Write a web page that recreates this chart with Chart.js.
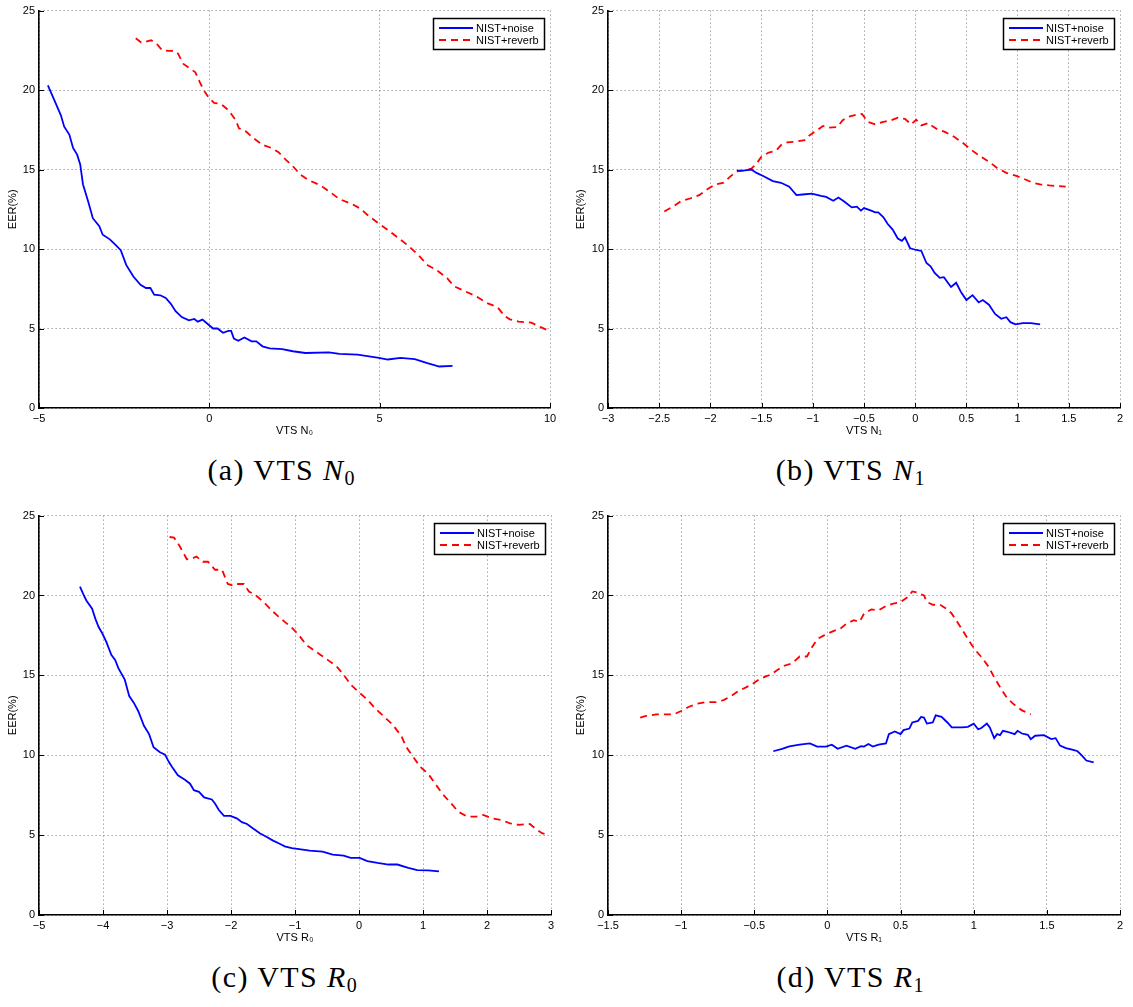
<!DOCTYPE html>
<html>
<head>
<meta charset="utf-8">
<script src="https://cdn.jsdelivr.net/npm/chart.js@4.4.0/dist/chart.umd.min.js"></script>
<style>
  body { margin: 0; background: #fff; width: 1133px; height: 1007px; position: relative; overflow: hidden; }
  canvas { position: absolute; }
  .cap { position: absolute; width: 400px; text-align: center; font-family: 'Liberation Serif', 'DejaVu Serif', serif; font-size: 30px; line-height: 30px; letter-spacing: 1.4px; color: #000; white-space: nowrap; }
  .cap sub { font-size: 20px; vertical-align: -5px; line-height: 0; font-style: normal; letter-spacing: 0; }
</style>
</head>
<body>
<canvas id="chartA" width="566" height="445" style="left:0;top:0"></canvas>
<canvas id="chartB" width="567" height="445" style="left:566px;top:0"></canvas>
<canvas id="chartC" width="566" height="445" style="left:0;top:505px"></canvas>
<canvas id="chartD" width="567" height="445" style="left:566px;top:505px"></canvas>
<div class="cap" style="left:81px;top:455px">(a) VTS <i>N</i><sub>0</sub></div>
<div class="cap" style="left:650px;top:455px">(b) VTS <i>N</i><sub>1</sub></div>
<div class="cap" style="left:84px;top:962px">(c) VTS <i>R</i><sub>0</sub></div>
<div class="cap" style="left:650px;top:962px">(d) VTS <i>R</i><sub>1</sub></div>
<script>
// (a) VTS N0
const n0NoiseX = [-4.74,-4.55,-4.36,-4.26,-4.11,-4.0,-3.88,-3.79,-3.71,-3.55,-3.42,-3.23,-3.13,-2.92,-2.76,-2.6,-2.44,-2.23,-2.02,-1.86,-1.73,-1.62,-1.44,-1.28,-1.13,-0.99,-0.81,-0.6,-0.44,-0.34,-0.2,-0.04,0.11,0.24,0.4,0.56,0.64,0.72,0.85,1.03,1.24,1.38,1.56,1.77,2.14,2.45,2.82,3.51,3.82,4.35,4.98,5.24,5.61,6.03,6.4,6.75,7.14];
const n0NoiseY = [20.3,19.37,18.43,17.7,17.2,16.36,15.94,15.32,14.08,12.94,11.94,11.44,10.9,10.61,10.28,9.93,9.0,8.27,7.75,7.55,7.55,7.13,7.09,6.92,6.55,6.09,5.72,5.51,5.6,5.43,5.56,5.27,5.0,5.0,4.73,4.85,4.85,4.37,4.23,4.44,4.19,4.19,3.88,3.75,3.71,3.57,3.46,3.5,3.4,3.36,3.15,3.05,3.15,3.07,2.82,2.61,2.65];
const n0ReverbX = [-2.16,-2.0,-1.86,-1.71,-1.55,-1.39,-1.18,-1.02,-0.92,-0.76,-0.55,-0.41,-0.28,-0.16,-0.02,0.14,0.35,0.56,0.77,0.87,1.08,1.29,1.56,1.82,2.03,2.24,2.45,2.66,2.87,3.29,3.56,3.82,4.19,4.45,4.66,4.98,5.19,5.51,5.82,6.14,6.4,6.66,6.98,7.19,7.51,7.83,8.14,8.46,8.67,8.82,9.08,9.45,9.71,9.98];
const n0ReverbY = [23.26,22.99,23.05,23.13,22.93,22.51,22.47,22.47,22.3,21.64,21.33,21.12,20.5,19.98,19.53,19.2,19.11,18.74,18.12,17.6,17.39,16.98,16.56,16.36,16.09,15.63,15.22,14.7,14.39,13.97,13.56,13.14,12.83,12.52,12.11,11.59,11.28,10.76,10.24,9.62,9.0,8.69,8.17,7.65,7.34,7.03,6.61,6.34,5.78,5.58,5.43,5.37,5.1,4.85];

// (b) VTS N1
const n1NoiseX = [-1.74,-1.66,-1.6,-1.55,-1.48,-1.39,-1.31,-1.23,-1.16,-1.1,-1.01,-0.92,-0.87,-0.8,-0.75,-0.69,-0.62,-0.57,-0.53,-0.5,-0.43,-0.39,-0.36,-0.31,-0.27,-0.22,-0.17,-0.13,-0.1,-0.05,0.01,0.06,0.11,0.15,0.19,0.24,0.28,0.35,0.4,0.45,0.5,0.56,0.62,0.66,0.72,0.78,0.84,0.89,0.93,0.98,1.05,1.13,1.22];
const n1NoiseY = [14.93,14.95,15.0,14.79,14.58,14.27,14.17,13.92,13.39,13.43,13.49,13.35,13.28,13.04,13.24,12.97,12.62,12.67,12.42,12.58,12.42,12.31,12.31,12.0,11.59,11.22,10.66,10.52,10.73,10.05,9.94,9.88,9.12,8.91,8.5,8.19,8.23,7.61,7.88,7.26,6.79,7.1,6.64,6.79,6.5,5.92,5.61,5.71,5.4,5.26,5.34,5.34,5.26];
const n1ReverbX = [-2.45,-2.36,-2.29,-2.2,-2.11,-2.03,-1.95,-1.87,-1.81,-1.74,-1.67,-1.6,-1.55,-1.5,-1.43,-1.36,-1.31,-1.25,-1.18,-1.08,-1.03,-0.95,-0.9,-0.85,-0.76,-0.71,-0.66,-0.57,-0.52,-0.46,-0.39,-0.32,-0.24,-0.17,-0.1,-0.04,0.01,0.06,0.13,0.17,0.22,0.29,0.38,0.47,0.55,0.64,0.73,0.8,0.89,0.98,1.06,1.15,1.22,1.31,1.4,1.47];
const n1ReverbY = [12.36,12.69,13.0,13.18,13.39,13.76,14.07,14.17,14.54,14.89,14.93,15.06,15.37,15.82,16.07,16.19,16.54,16.71,16.75,16.85,17.16,17.51,17.74,17.64,17.68,18.09,18.3,18.46,18.5,17.99,17.84,17.99,18.09,18.26,18.19,17.84,18.13,17.78,17.93,17.72,17.51,17.37,17.06,16.65,16.23,15.82,15.45,15.1,14.79,14.62,14.42,14.17,14.07,14.0,13.96,13.92];

// (c) VTS R0
const r0NoiseX = [-4.36,-4.31,-4.26,-4.17,-4.12,-4.07,-4.01,-3.95,-3.87,-3.81,-3.76,-3.66,-3.59,-3.52,-3.45,-3.36,-3.28,-3.21,-3.11,-3.03,-2.97,-2.92,-2.83,-2.72,-2.64,-2.58,-2.5,-2.42,-2.3,-2.25,-2.19,-2.11,-2.01,-1.91,-1.83,-1.75,-1.66,-1.55,-1.44,-1.35,-1.24,-1.16,-1.05,-0.88,-0.77,-0.57,-0.41,-0.24,-0.13,0.01,0.13,0.29,0.46,0.6,0.77,0.91,1.08,1.25];
const r0NoiseY = [20.56,20.1,19.69,19.17,18.55,18.04,17.62,17.11,16.28,15.97,15.45,14.73,13.7,13.29,12.77,11.84,11.32,10.5,10.19,10.04,9.57,9.26,8.74,8.47,8.22,7.81,7.71,7.36,7.23,6.98,6.57,6.2,6.2,6.05,5.81,5.7,5.43,5.12,4.88,4.67,4.46,4.3,4.19,4.09,4.03,3.97,3.78,3.72,3.57,3.57,3.37,3.26,3.16,3.16,2.95,2.81,2.79,2.73];
const r0ReverbX = [-2.96,-2.89,-2.81,-2.69,-2.61,-2.54,-2.44,-2.36,-2.25,-2.14,-2.05,-1.97,-1.91,-1.8,-1.72,-1.61,-1.49,-1.38,-1.27,-1.16,-1.05,-0.94,-0.82,-0.71,-0.6,-0.49,-0.35,-0.24,-0.13,0.01,0.13,0.24,0.38,0.52,0.66,0.74,0.85,0.96,1.08,1.19,1.3,1.44,1.55,1.69,1.83,1.94,2.08,2.22,2.36,2.5,2.67,2.75,2.86,2.97];
const r0ReverbY = [23.66,23.62,23.14,22.27,22.31,22.44,22.11,22.11,21.61,21.61,20.72,20.62,20.72,20.72,20.25,20.0,19.59,19.13,18.72,18.35,17.98,17.52,16.9,16.59,16.28,15.97,15.56,15.04,14.42,13.9,13.49,12.98,12.46,11.94,11.22,10.5,9.88,9.26,8.84,8.22,7.6,6.98,6.47,6.16,6.16,6.26,6.05,5.95,5.74,5.64,5.7,5.43,5.12,5.02];

// (d) VTS R1
const r1NoiseX = [-0.37,-0.31,-0.26,-0.19,-0.12,-0.07,-0.01,0.03,0.07,0.13,0.19,0.23,0.25,0.28,0.31,0.35,0.4,0.42,0.46,0.5,0.52,0.56,0.58,0.62,0.64,0.66,0.68,0.72,0.74,0.78,0.82,0.85,0.92,0.96,1.0,1.03,1.05,1.09,1.11,1.14,1.16,1.18,1.2,1.23,1.28,1.3,1.33,1.37,1.39,1.42,1.48,1.53,1.56,1.59,1.63,1.68,1.71,1.74,1.77,1.82];
const r1NoiseY = [10.25,10.4,10.56,10.66,10.74,10.54,10.54,10.66,10.4,10.6,10.4,10.56,10.54,10.7,10.54,10.66,10.74,11.32,11.49,11.32,11.57,11.67,12.05,12.15,12.4,12.36,11.98,12.05,12.5,12.4,12.05,11.74,11.74,11.78,11.98,11.63,11.69,11.98,11.74,11.07,11.32,11.26,11.53,11.47,11.32,11.53,11.36,11.28,11.01,11.22,11.26,11.01,11.07,10.6,10.45,10.33,10.25,9.98,9.67,9.55];
const r1ReverbX = [-1.28,-1.24,-1.17,-1.11,-1.05,-1.0,-0.95,-0.89,-0.83,-0.76,-0.71,-0.66,-0.61,-0.55,-0.51,-0.47,-0.42,-0.38,-0.34,-0.29,-0.24,-0.19,-0.14,-0.11,-0.07,-0.02,0.04,0.09,0.13,0.18,0.22,0.25,0.3,0.35,0.4,0.45,0.5,0.55,0.58,0.62,0.66,0.68,0.72,0.77,0.82,0.85,0.89,0.93,0.98,1.01,1.06,1.1,1.14,1.19,1.23,1.28,1.33,1.39];
const r1ReverbY = [12.36,12.46,12.56,12.56,12.56,12.77,13.02,13.22,13.33,13.33,13.45,13.7,14.01,14.28,14.47,14.73,14.94,15.08,15.35,15.62,15.76,16.18,16.18,16.69,17.27,17.52,17.77,17.93,18.24,18.45,18.35,18.86,19.13,19.07,19.34,19.49,19.59,19.9,20.25,20.17,20.0,19.59,19.42,19.42,19.13,18.86,18.31,17.73,17.0,16.59,16.07,15.56,14.88,14.11,13.55,13.14,12.81,12.56];

const seriesLabels = ['NIST+noise', 'NIST+reverb'];
const yTitle = 'EER(%)';

const sans = "'Liberation Sans', Arial, Helvetica, sans-serif";

function fmt(v) {
  const r = Math.round(v * 10) / 10;
  return r < 0 ? '\u2212' + Math.abs(r) : String(r);
}

function pairs(xs, ys) {
  return xs.map((x, i) => ({x: x, y: ys[i]}));
}

// matlab style legend box inside the axes, plus inward tick marks
const matlabBits = {
  id: 'matlabBits',
  afterDraw(chart) {
    const {ctx, chartArea} = chart;
    const xs = chart.scales.x, ys = chart.scales.y;
    ctx.save();
    ctx.strokeStyle = '#000';
    ctx.lineWidth = 1;
    ctx.beginPath();
    xs.ticks.forEach(t => {
      const px = Math.round(xs.getPixelForValue(t.value)) + 0.5;
      ctx.moveTo(px, chartArea.bottom);
      ctx.lineTo(px, chartArea.bottom - 5);
    });
    ys.ticks.forEach(t => {
      const py = Math.round(ys.getPixelForValue(t.value)) + 0.5;
      ctx.moveTo(chartArea.left, py);
      ctx.lineTo(chartArea.left + 5, py);
    });
    ctx.stroke();

    const sets = chart.data.datasets;
    ctx.font = '11px ' + sans;
    const tw = Math.max(...sets.map(d => ctx.measureText(d.label).width));
    const w = Math.round(43 + tw + 5), h = 31;
    const x = Math.round(chartArea.right - 6 - w), y = Math.round(chartArea.top + 7);
    ctx.fillStyle = '#fff';
    ctx.fillRect(x, y, w, h);
    ctx.lineWidth = 1.5;
    ctx.strokeStyle = '#000';
    ctx.strokeRect(x + 0.5, y + 0.5, w, h);
    sets.forEach((d, i) => {
      const ly = y + 10 + i * 12;
      ctx.beginPath();
      ctx.setLineDash(d.borderDash || []);
      ctx.strokeStyle = d.borderColor;
      ctx.lineWidth = d.borderWidth;
      ctx.moveTo(x + 6, ly);
      ctx.lineTo(x + 40, ly);
      ctx.stroke();
      ctx.setLineDash([]);
      ctx.fillStyle = '#000';
      ctx.textBaseline = 'middle';
      ctx.textAlign = 'left';
      ctx.fillText(d.label, x + 43, ly + 1);
    });
    ctx.restore();
  }
};

function makeChart(id, g, xMin, xMax, xStep, xTitle, noiseX, noiseY, revX, revY) {
  return new Chart(document.getElementById(id), {
    type: 'line',
    data: {
      datasets: [
        {
          label: seriesLabels[0],
          data: pairs(noiseX, noiseY),
          borderColor: '#0000ff',
          borderWidth: 1.8,
          pointRadius: 0,
          tension: 0
        },
        {
          label: seriesLabels[1],
          data: pairs(revX, revY),
          borderColor: '#ff0000',
          borderDash: [7, 5],
          borderWidth: 1.8,
          pointRadius: 0,
          tension: 0
        }
      ]
    },
    options: {
      responsive: false,
      animation: false,
      events: [],
      layout: { padding: { top: g.top, right: g.right, left: 0, bottom: 0 } },
      plugins: { legend: { display: false }, tooltip: { enabled: false } },
      scales: {
        x: {
          type: 'linear',
          min: xMin,
          max: xMax,
          ticks: { stepSize: xStep, callback: fmt, color: '#000', font: { family: sans, size: 11 }, padding: 4, maxRotation: 0, autoSkip: false },
          grid: { color: '#7a7a7a', drawTicks: false, lineWidth: 1 },
          border: { color: '#000', width: 1.6, dash: [1, 3] },
          title: { display: true, text: xTitle, color: '#000', font: { family: sans, size: 11 }, padding: { top: 0, bottom: g.xtp } },
          afterFit(s) { s.height = g.xh; }
        },
        y: {
          min: 0,
          max: 25,
          ticks: { stepSize: 5, callback: fmt, color: '#000', font: { family: sans, size: 11 }, padding: 4 },
          grid: { color: '#7a7a7a', drawTicks: false, lineWidth: 1 },
          border: { color: '#000', width: 1.6, dash: [1, 3] },
          title: { display: true, text: yTitle, color: '#000', font: { family: sans, size: 11 }, padding: { top: g.ytp, bottom: 0 } },
          afterFit(s) { s.width = g.yw; }
        }
      }
    },
    plugins: [matlabBits]
  });
}

makeChart('chartA', { top: 5, right: 16, yw: 39, xh: 37, xtp: 7, ytp: 6 }, -5, 10, 5, 'VTS N\u2080', n0NoiseX, n0NoiseY, n0ReverbX, n0ReverbY);
makeChart('chartB', { top: 5, right: 13, yw: 42, xh: 37, xtp: 7, ytp: 8 }, -3, 2, 0.5, 'VTS N\u2081', n1NoiseX, n1NoiseY, n1ReverbX, n1ReverbY);
makeChart('chartC', { top: 8, right: 15, yw: 39, xh: 35, xtp: 5, ytp: 6 }, -5, 3, 1, 'VTS R\u2080', r0NoiseX, r0NoiseY, r0ReverbX, r0ReverbY);
makeChart('chartD', { top: 8, right: 13, yw: 42, xh: 35, xtp: 5, ytp: 8 }, -1.5, 2, 0.5, 'VTS R\u2081', r1NoiseX, r1NoiseY, r1ReverbX, r1ReverbY);
</script>
</body>
</html>
